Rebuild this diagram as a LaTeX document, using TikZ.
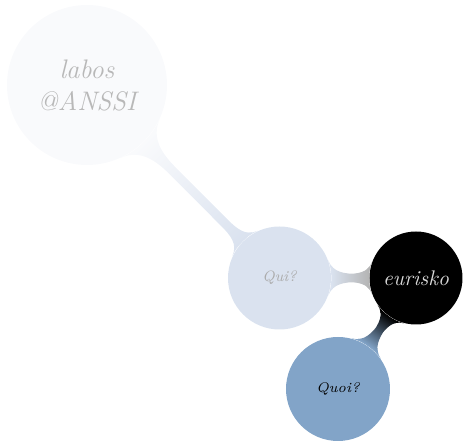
\documentclass[tikz,border=0pt]{standalone}
\usetikzlibrary{mindmap}
\definecolor{labosfill}{HTML}{F9FAFC}
\definecolor{quifill}{HTML}{DAE2EF}
\definecolor{quoifill}{HTML}{82A4C8}
\definecolor{barmid}{HTML}{B4B4B4}
\begin{document}
\begin{tikzpicture}[x=0.5pt,y=-0.5pt,
  bubble/.style={circle,draw=none,inner sep=0pt,align=center},
  link/.style={line width=6pt}]
\useasboundingbox (0,0) rectangle (463,443);
% the four concepts
\node[bubble,minimum size=80pt,fill=labosfill,text=black!28,
  font=\fontsize{13.4}{16}\selectfont\itshape] (labos) at (87,85) {labos\\@ANSSI};
\node[bubble,minimum size=51.5pt,fill=quifill,text=black!33,
  font=\fontsize{7.5}{9}\selectfont\itshape] (qui) at (279.5,278) {Qui?};
\node[bubble,minimum size=46.5pt,fill=black,text=black!15,
  font=\fontsize{10.6}{13}\selectfont\itshape] (eurisko) at (416,278) {eurisko};
\node[bubble,minimum size=52pt,fill=quoifill,text=black,
  font=\fontsize{7}{8.5}\selectfont\itshape] (quoi) at (338,389) {Quoi?};
% connection bars
\path[link] (labos) to[circle connection bar switch color=from (labosfill) to (quifill)] (qui);
\path[link] (qui) to[circle connection bar switch color=from (quifill) to (barmid)] (eurisko);
\path[link] (eurisko) to[circle connection bar switch color=from (black) to (quoifill)] (quoi);
\end{tikzpicture}
\end{document}
